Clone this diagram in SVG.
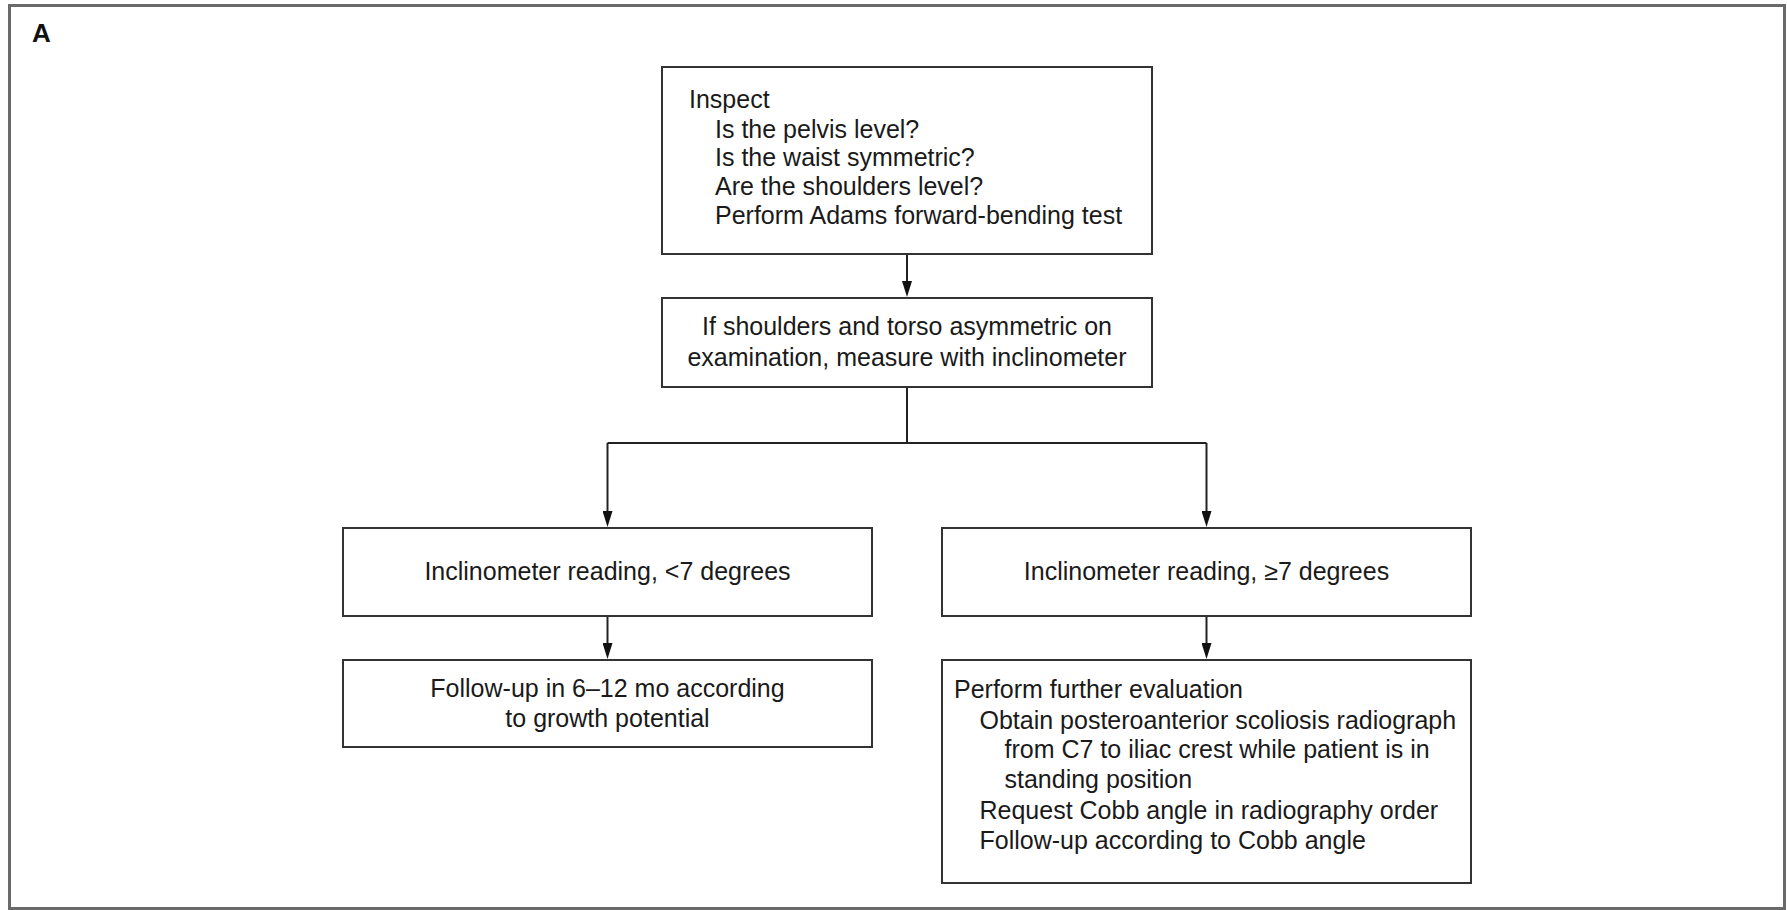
<svg xmlns="http://www.w3.org/2000/svg" width="1787" height="910" viewBox="0 0 1787 910">
<style>
.frame{fill:#fff;stroke:#6a6a6a;stroke-width:3}
.box{fill:#fff;stroke:#333;stroke-width:2}
.conn{fill:none;stroke:#222;stroke-width:2}
text{font-family:"Liberation Sans",Arial,sans-serif;font-size:25px;fill:#1a1a1a}
.c{text-anchor:middle}
.lbl{font-weight:bold;font-size:26px;fill:#111}
</style>
<defs>
<marker id="ah" viewBox="0 0 16 10" refX="6" refY="5" markerWidth="16" markerHeight="10" markerUnits="userSpaceOnUse" orient="auto">
<path d="M0,0 L16,5 L0,10 z" fill="#111"/>
</marker>
</defs>
<rect class="frame" x="9.5" y="5.5" width="1775" height="903"/>
<text class="lbl" x="32" y="42">A</text>
<g id="connectors">
<line class="conn" x1="907" y1="254" x2="907" y2="287" marker-end="url(#ah)"/>
<polyline class="conn" points="907,387 907,443"/>
<polyline class="conn" points="607.5,443 1206.5,443"/>
<line class="conn" x1="607.5" y1="443" x2="607.5" y2="517" marker-end="url(#ah)"/>
<line class="conn" x1="1206.5" y1="443" x2="1206.5" y2="517" marker-end="url(#ah)"/>
<line class="conn" x1="607.5" y1="616" x2="607.5" y2="649" marker-end="url(#ah)"/>
<line class="conn" x1="1206.5" y1="616" x2="1206.5" y2="649" marker-end="url(#ah)"/>
</g>
<g id="inspect">
<rect class="box" x="662" y="67" width="490" height="187"/>
<text x="689" y="108">Inspect</text>
<text x="715" y="137.5">Is the pelvis level?</text>
<text x="715" y="166">Is the waist symmetric?</text>
<text x="715" y="195">Are the shoulders level?</text>
<text x="715" y="224">Perform Adams forward-bending test</text>
</g>
<g id="measure">
<rect class="box" x="662" y="298" width="490" height="89"/>
<text class="c" x="907" y="335">If shoulders and torso asymmetric on</text>
<text class="c" x="907" y="366">examination, measure with inclinometer</text>
</g>
<g id="lt7">
<rect class="box" x="343" y="528" width="529" height="88"/>
<text class="c" x="607.5" y="580">Inclinometer reading, &lt;7 degrees</text>
</g>
<g id="ge7">
<rect class="box" x="942" y="528" width="529" height="88"/>
<text class="c" x="1206.5" y="580">Inclinometer reading, ≥7 degrees</text>
</g>
<g id="followup">
<rect class="box" x="343" y="660" width="529" height="87"/>
<text class="c" x="607.5" y="697">Follow-up in 6–12 mo according</text>
<text class="c" x="607.5" y="727">to growth potential</text>
</g>
<g id="further">
<rect class="box" x="942" y="660" width="529" height="223"/>
<text x="954" y="698">Perform further evaluation</text>
<text x="979.5" y="728.5">Obtain posteroanterior scoliosis radiograph</text>
<text x="1004.5" y="758">from C7 to iliac crest while patient is in</text>
<text x="1004.5" y="788">standing position</text>
<text x="979.5" y="818.5">Request Cobb angle in radiography order</text>
<text x="979.5" y="848.5">Follow-up according to Cobb angle</text>
</g>
</svg>
